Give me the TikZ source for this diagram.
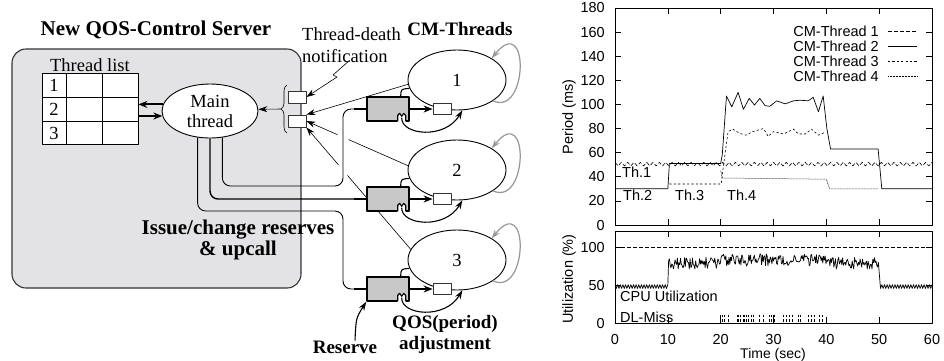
\documentclass[tikz,border=0pt]{standalone}
\usepackage{fontspec}
\setmainfont{Liberation Serif}
\newfontfamily\plotfont{Liberation Sans}
\usetikzlibrary{arrows.meta,shapes.geometric,decorations.pathreplacing}
\definecolor{srvgray}{RGB}{227,227,229}
\definecolor{resgray}{RGB}{200,200,200}
\definecolor{loopgray}{RGB}{150,150,150}

% little clip cut into the bottom of a reserve box
\newcommand{\resnotch}[1]{%
  \fill[white] ([xshift=-12pt,yshift=-1pt]#1.south east) -- ++(0,-6) -- ++(2,-2) -- ++(2,3)
      -- ++(2,-3) -- ++(2,2) -- ++(0,6) -- cycle;
  \draw[line width=1.1pt] ([xshift=-12pt,yshift=0.7pt]#1.south east) -- ++(0,-5.7) -- ++(2,-2)
      -- ++(2,3) -- ++(2,-3) -- ++(2,2) -- ++(0,5.7);
}

\begin{document}
\begin{tikzpicture}[
    x=1pt, y=-1pt,
    line join=round,
    txt/.style={font=\fontsize{18.5}{22}\selectfont, inner sep=0pt},
    boldlab/.style={font=\fontsize{19}{21}\selectfont\bfseries, inner sep=0pt},
    biglab/.style={font=\fontsize{21}{21}\selectfont\bfseries, inner sep=0pt},
    server/.style={draw=black!80, fill=srvgray, line width=1.1pt, rounded corners=14pt},
    thr/.style={ellipse, draw=black, fill=white, line width=0.9pt, inner sep=0pt,
                font=\fontsize{18.5}{20}\selectfont, align=center},
    resbox/.style={draw=black, fill=resgray, line width=1.4pt, minimum width=42pt,
                   minimum height=24pt, inner sep=0pt},
    smallbox/.style={draw=black!80, fill=white, line width=0.8pt, minimum width=18pt,
                     minimum height=11pt, inner sep=0pt},
    conn/.style={line width=0.9pt, rounded corners=8pt},
    stub/.style={line width=2pt},
    fatarrow/.style={line width=1.8pt, -{Stealth[length=9pt, width=7pt]}},
    thinarrow/.style={line width=0.6pt, -{Stealth[length=9pt, width=6pt, inset=3pt]}},
    hookarrow/.style={line width=1.1pt, -{Stealth[length=9pt, width=6pt, inset=3pt]}},
    selfloop/.style={draw=loopgray, line width=1.2pt, -{Stealth[length=9pt, width=6pt, inset=3pt]}},
    ticklbl/.style={font=\plotfont\fontsize{14.5}{16}\selectfont, inner sep=0pt},
    axis/.style={line width=0.8pt},
    tick/.style={line width=0.6pt},
    th1/.style={line width=0.6pt, dash pattern=on 4pt off 2pt},
    th2/.style={line width=0.7pt},
    th3/.style={line width=0.6pt, dash pattern=on 2.2pt off 2.2pt},
    th4/.style={line width=0.5pt, dash pattern=on 0.8pt off 0.7pt},
    dlmark/.style={line width=0.6pt, dash pattern=on 3pt off 1.5pt}
]
\useasboundingbox (0,0) rectangle (944,360);

% server
\draw[server] (12,49) rectangle (301,288);
\node[biglab] (title) at (156,30) {New QOS-Control Server};
\node[txt] (tlist) at (90,65) {Thread list};

\node[draw, fill=white, line width=0.8pt, minimum width=96pt, minimum height=71pt, inner sep=0pt] (tbl) at (90,108.5) {};
\draw[line width=0.7pt] (66,73) -- (66,144) (102,73) -- (102,144) (42,97) -- (138,97) (42,121) -- (138,121);
\node[txt] (row1) at (54,85) {1};
\node[txt] (row2) at (54,109) {2};
\node[txt] (row3) at (54,133) {3};

\node[thr, minimum width=96pt, minimum height=54pt] (main) at (210,111) {Main\\thread};
\draw[fatarrow] (main.172) -- (main.172 -| tbl.east);
\draw[fatarrow] (main.186 -| tbl.east) -- (main.186);

\node[smallbox, minimum height=12pt] (nb1) at (297,97) {};
\node[smallbox, minimum height=12pt] (nb2) at (297,121) {};
\draw[line width=0.6pt, decorate, decoration={brace, amplitude=6pt}] (287,133) -- (287,85);
\coordinate (btip) at (281,109);
\draw[thinarrow] (btip) -- (main.2);

\node[txt, align=left, anchor=west] (tdlab) at (302,45) {Thread-death\\notification};
\coordinate (ltop) at (350,60);
\draw[thinarrow] (ltop) -- (333,75) -- (337,77) -- (nb1.east);

\node[boldlab] (cmlab) at (460,29) {CM-Threads};
\node[biglab, align=center] (issue) at (238,240) {Issue/change reserves\\\& upcall};

% CM-threads
\node[thr, minimum width=98pt, minimum height=60pt] (e1) at (457,80) {1};
\node[thr, minimum width=98pt, minimum height=60pt] (e2) at (457,170) {2};
\node[thr, minimum width=98pt, minimum height=60pt] (e3) at (457,260) {3};

\draw[thinarrow] (e1.185) -- (nb2.north east);
\draw[thinarrow] (e2.175) -- (nb2.east);
\draw[thinarrow] (e3.167) -- (nb2.south east);
\fill[white] (343,137) circle (6);
\fill[white] (343,170) circle (7);

\begin{scope}[shift={(0,0)}]
  \node[resbox] (r1) at (388,109) {};
  \resnotch{r1}
  \draw[stub] ([xshift=-12pt]r1.west) -- (r1.west);
  \draw[hookarrow, -] (e1.190) .. controls (401,89) .. ([xshift=-9pt]r1.north east);
  \draw[hookarrow] ([xshift=-8pt,yshift=4pt]r1.south east) .. controls (401,135) and (445,140) .. (e1.280);
  \node[smallbox] (q1) at (442,109) {};
  \draw[fatarrow] (r1.east) -- (q1.west);
  \draw[selfloop] (e1.-30) .. controls +(35,16) and +(38,-47) .. (e1.32);
\end{scope}

\begin{scope}[shift={(0,90)}]
  \node[resbox] (r2) at (388,109) {};
  \resnotch{r2}
  \draw[stub] ([xshift=-12pt]r2.west) -- (r2.west);
  \draw[hookarrow, -] (e2.190) .. controls (401,89) .. ([xshift=-9pt]r2.north east);
  \draw[hookarrow] ([xshift=-8pt,yshift=4pt]r2.south east) .. controls (401,135) and (445,140) .. (e2.280);
  \node[smallbox] (q2) at (442,109) {};
  \draw[fatarrow] (r2.east) -- (q2.west);
  \draw[selfloop] (e2.-30) .. controls +(35,16) and +(38,-47) .. (e2.32);
\end{scope}

\begin{scope}[shift={(0,180)}]
  \node[resbox] (r3) at (388,109) {};
  \resnotch{r3}
  \draw[stub] ([xshift=-12pt]r3.west) -- (r3.west);
  \draw[hookarrow, -] (e3.190) .. controls (401,89) .. ([xshift=-9pt]r3.north east);
  \draw[hookarrow] ([xshift=-8pt,yshift=4pt]r3.south east) .. controls (401,135) and (445,140) .. (e3.280);
  \node[smallbox] (q3) at (442,109) {};
  \draw[fatarrow] (r3.east) -- (q3.west);
  \draw[selfloop] (e3.-30) .. controls +(35,16) and +(38,-47) .. (e3.32);
\end{scope}

% reserve lines out of the main thread
\draw[conn] (main.-65) |- (343,186) |- (r1.west);
\draw[conn, line width=1.4pt] (main.south) |- (r2.west);
\draw[conn] (main.-115) |- (343,211) |- (r3.west);

\node[boldlab] (reslab) at (345,347) {Reserve};
\draw[hookarrow] ([xshift=10pt]reslab.north) .. controls (356,318) .. (r3.south west);
\node[boldlab, align=center] (qoslab) at (445,334) {QOS(period)\\adjustment};

% period plot
\begin{scope}[shift={(615,225)}, x=5.2833pt, y=1.2056pt]
  \draw[axis] (0,0) rectangle (60,180);
  \foreach \v in {0,20,...,180} {
    \draw[tick] (0,\v) -- ++(6pt,0) (60,\v) -- ++(-6pt,0);
    \node[ticklbl, anchor=east] (py\v) at ([xshift=-10pt]0,\v) {\v};
  }
  \foreach \t in {10,20,...,50} {
    \draw[tick] (\t,0) -- ++(0,6pt) (\t,180) -- ++(0,-6pt);
  }
  \draw[th1] plot[domain=0:100, samples=101] ({0.6*\x},{50.5+1.5*(1-2*mod(round(\x),2))});
  \draw[th2] (0,30) -- (10,30) -- (10.3,51) -- (20,51) -- (20.3,58) -- (21.1,107) -- (22.1,98)
     -- (23.3,110) -- (24.3,96) -- (25.4,105) -- (26.4,99.5) -- (27.4,105) -- (28.4,99)
     -- (29.3,98.5) -- (30.6,103) -- (32.2,100.5) -- (33.8,103) -- (35,103.5) -- (36.6,103)
     -- (37.5,106) -- (38.5,94) -- (39.4,107) -- (40.1,80) -- (40.8,63) -- (49.8,63)
     -- (50.5,30) -- (60,30);
  \draw[th3] (10.3,34) -- (20.1,34) -- (20.4,45) -- (21.4,77.5) -- (22.3,79.5) -- (23.6,76)
     -- (24.8,74.5) -- (26.1,77.5) -- (28.1,80) -- (29,73.5) -- (30,77.5) -- (31.9,75.5)
     -- (33.8,79.5) -- (34.7,75.5) -- (36,75.5) -- (37.2,79.5) -- (38.5,74.5) -- (39.8,77);
  \draw[th4] (20,45) -- (20.3,39) -- (40,38) -- (40.6,30) -- (49.8,30);
\end{scope}

\node[ticklbl, anchor=east] (lg1) at (879,31) {CM-Thread 1};
\node[ticklbl, anchor=east] (lg2) at (879,46) {CM-Thread 2};
\node[ticklbl, anchor=east] (lg3) at (879,61) {CM-Thread 3};
\node[ticklbl, anchor=east] (lg4) at (879,76) {CM-Thread 4};
\draw[th1] (888,31) -- (917,31);
\draw[th2] (888,46) -- (917,46);
\draw[th3] (888,61) -- (917,61);
\draw[th4] (888,76) -- (917,76);

\node[ticklbl, anchor=west] (thl1) at (622,172) {Th.1};
\node[ticklbl, anchor=west] (thl2) at (623,195) {Th.2};
\node[ticklbl, anchor=west] (thl3) at (675,195) {Th.3};
\node[ticklbl, anchor=west] (thl4) at (727,195) {Th.4};

% utilization plot
\pgfmathsetseed{3}
\begin{scope}[shift={(615,323)}, x=5.2833pt, y=0.76pt]
  \draw[axis] (0,0) rectangle (60,121.05);
  \foreach \v in {0,50,100} {
    \draw[tick] (0,\v) -- ++(6pt,0) (60,\v) -- ++(-6pt,0);
    \node[ticklbl, anchor=east] (uy\v) at ([xshift=-10pt]0,\v) {\v};
  }
  \foreach \t in {10,20,...,50} {
    \draw[tick] (\t,0) -- ++(0,6pt) (\t,121.05) -- ++(0,-6pt);
  }
  \foreach \t in {0,10,...,60} {
    \node[ticklbl] (ux\t) at ([yshift=-16pt]\t,0) {\t};
  }
  \draw[th1] (0,100) -- (60,100);
  \draw[th2] plot[domain=0:40, samples=41] ({\x/4},{48+2.5*(1-2*mod(round(\x),2))})
     -- plot[domain=10.15:49.85, samples=265] (\x,{79+4*(\x>20)*(\x<40)+8*rand})
     -- plot[domain=201:240, samples=40] ({\x/4},{48+2.5*(1-2*mod(round(\x),2))});
  \foreach \t in {20.0,20.3,20.6,21.4,23.1,23.4,23.7,24.2,24.5,24.9,25.2,25.8,26.1,27.4,28.0,
                  29.2,29.5,29.9,30.1,31.8,32.4,32.9,33.6,34.6,35.1,36.5,37.1,37.7,38.7,39.3} {
    \draw[dlmark] (\t,1.5) -- (\t,10.5);
  }
\end{scope}

\node[ticklbl, rotate=90] (ylab1) at (569,117) {Period (ms)};
\node[ticklbl, rotate=90] (ylab2) at (569,279) {Utilization (\%)};
\node[ticklbl, anchor=west] (cpulab) at (620,296) {CPU Utilization};
\node[ticklbl, anchor=west] (dllab) at (620,317) {DL-Miss};
\node[ticklbl, font=\plotfont\fontsize{14}{15}\selectfont, anchor=base] (xlab) at (773,358) {Time (sec)};

\end{tikzpicture}
\end{document}
